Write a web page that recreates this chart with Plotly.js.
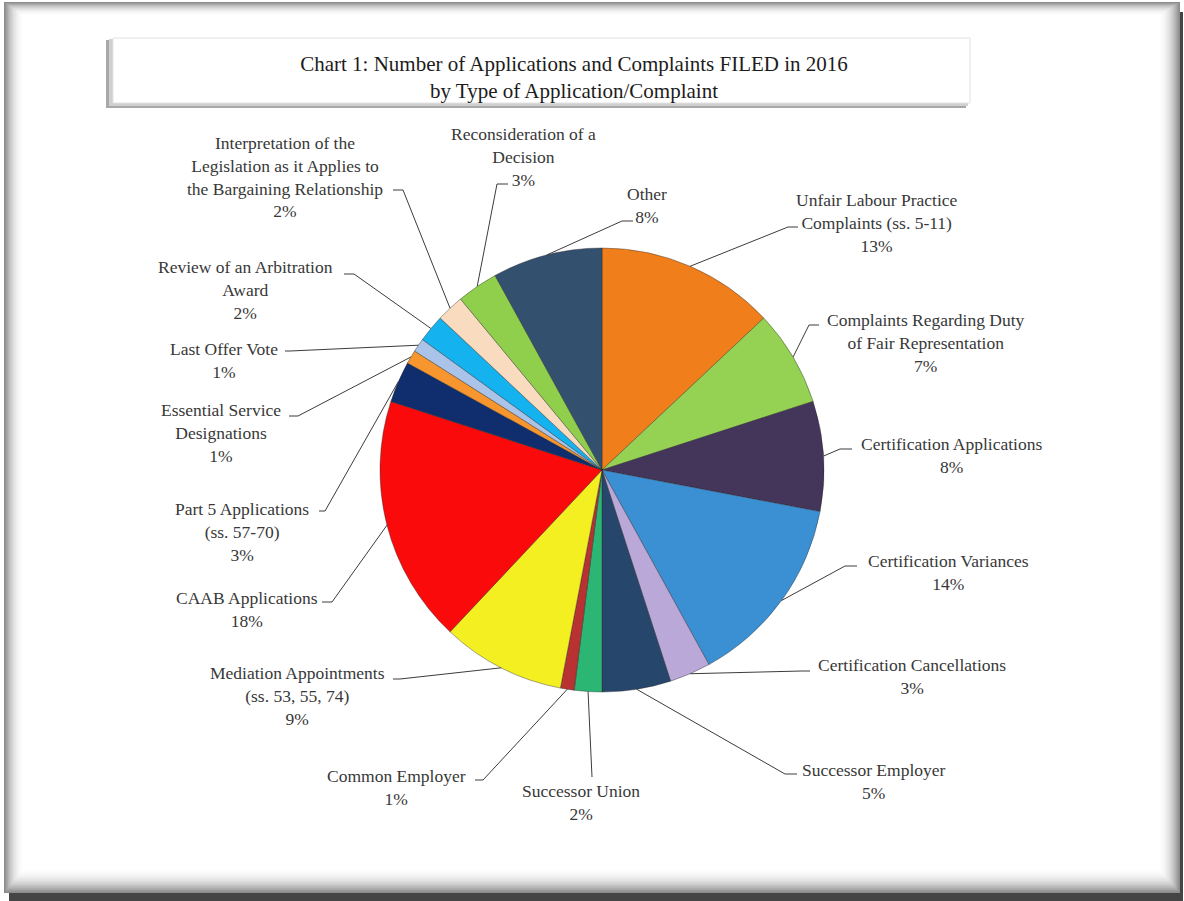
<!DOCTYPE html>
<html>
<head>
<meta charset="utf-8">
<script src="https://cdn.plot.ly/plotly-3.0.1.min.js"></script>
<style>html,body{margin:0;padding:0;background:#fff;}#chart{width:1184px;height:901px;}</style>
</head>
<body>
<div id="chart"></div>
<script>
// ---- data ----
const categories = [
  "Unfair Labour Practice Complaints (ss. 5-11)",
  "Complaints Regarding Duty of Fair Representation",
  "Certification Applications",
  "Certification Variances",
  "Certification Cancellations",
  "Successor Employer",
  "Successor Union",
  "Common Employer",
  "Mediation Appointments (ss. 53, 55, 74)",
  "CAAB Applications",
  "Part 5 Applications (ss. 57-70)",
  "Essential Service Designations",
  "Last Offer Vote",
  "Review of an Arbitration Award",
  "Interpretation of the Legislation as it Applies to the Bargaining Relationship",
  "Reconsideration of a Decision",
  "Other"
];
const percentValues = [13, 7, 8, 14, 3, 5, 2, 1, 9, 18, 3, 1, 1, 2, 2, 3, 8];
const labelLines = [
  ["Unfair Labour Practice", "Complaints (ss. 5-11)"],
  ["Complaints Regarding Duty", "of Fair Representation"],
  ["Certification Applications"],
  ["Certification Variances"],
  ["Certification Cancellations"],
  ["Successor Employer"],
  ["Successor Union"],
  ["Common Employer"],
  ["Mediation Appointments", "(ss. 53, 55, 74)"],
  ["CAAB Applications"],
  ["Part 5 Applications", "(ss. 57-70)"],
  ["Essential Service", "Designations"],
  ["Last Offer Vote"],
  ["Review of an Arbitration", "Award"],
  ["Interpretation of the", "Legislation as it Applies to", "the Bargaining Relationship"],
  ["Reconsideration of a", "Decision"],
  ["Other"]
];
const titleLines = ["Chart 1: Number of Applications and Complaints FILED in 2016", "by Type of Application/Complaint"];

// ---- styles / layout hints ----
const sliceColors = ["#F07E1B","#95D153","#44355A","#3B8FD3","#B9A8D8","#27466B","#2BB673","#B83232",
  "#F4EF20","#FA0A0A","#102E6E","#F7962F","#AAC3E8","#14B3F0","#F9DCC0","#8FCF4C","#34506F"];
// label text centre [x,y] and leader elbow / end points, in pixels
const labelCenters = [[877,223],[926,343],[951,456],[948,572],[912,676],[874,781],[581,802],[396,787],
  [297,696],[247,609],[242,532],[221,433],[224,361],[246,290],[285,177],[523,157],[647,206]];
const leaderElbows = [[788,227],[809,325],[840,449],[845,566],[802,671],[785,774],[592,777],[483,780],
  [400,679],[332,602],[325,511],[298,416],[290,351],[354,274],[403,190],[497,184],[622,221]];
const leaderEnds = [[798,227],[819,325],[852,449],[857,566],[810,671],[797,774],[592,777],[475,780],
  [393,679],[322,602],[319,511],[289,416],[285,351],[344,274],[393,190],[508,184],[633,221]];

const W = 1184, H = 901;
const px = x => x / W;
const py = y => 1 - y / H;
const CX = 602, CY = 470, R = 222;

const shapes = [];
// outer frame with shadow
shapes.push({type:'rect', xref:'paper', yref:'paper', x0:px(9), x1:px(1183), y0:py(901), y1:py(12),
  fillcolor:'#454545', line:{width:0}, layer:'below'});
const N = 16;
for (let i = 0; i <= N; i++) {
  const t = i / N;
  const g = Math.round(140 + 115 * (1 - Math.pow(1 - t, 2.2)));
  const c = `rgb(${g},${g},${g})`;
  shapes.push({type:'rect', xref:'paper', yref:'paper',
    x0:px(4 + i * 1.3), x1:px(1180 - i * 1.4), y0:py(893 - i * 1.6), y1:py(2 + i * 0.9),
    fillcolor:c, line:{width:0}, layer:'below'});
}
// title box with shadow
shapes.push({type:'rect', xref:'paper', yref:'paper', x0:px(106), x1:px(966), y0:py(108), y1:py(40),
  fillcolor:'#a8a8a8', line:{width:0}, layer:'below'});
shapes.push({type:'rect', xref:'paper', yref:'paper', x0:px(109), x1:px(968), y0:py(106), y1:py(39),
  fillcolor:'#d0d0d0', line:{width:0}, layer:'below'});
shapes.push({type:'rect', xref:'paper', yref:'paper', x0:px(113), x1:px(970), y0:py(103), y1:py(38),
  fillcolor:'#ffffff', line:{color:'#e2e2e2', width:1}, layer:'below'});

// leader lines, anchored at slice mid-angle on the rim
const total = percentValues.reduce((a, b) => a + b, 0);
let cum = 0;
const annotations = [];
percentValues.forEach((v, i) => {
  const mid = (cum + v / 2) / total;
  cum += v;
  const th = 2 * Math.PI * mid;
  const rx = CX + R * Math.sin(th), ry = CY - R * Math.cos(th);
  const e = leaderElbows[i], f = leaderEnds[i];
  shapes.push({type:'path', xref:'paper', yref:'paper',
    path:`M ${px(rx)},${py(ry)} L ${px(e[0])},${py(e[1])} L ${px(f[0])},${py(f[1])}`,
    line:{color:'#3c3c3c', width:1}, layer:'above'});
  const txt = labelLines[i].concat([v + '%']).join('<br>');
  annotations.push({xref:'paper', yref:'paper', x:px(labelCenters[i][0]), y:py(labelCenters[i][1]),
    xanchor:'center', yanchor:'middle', align:'center', showarrow:false, text:txt,
    font:{family:'Liberation Serif, Times New Roman, serif', size:17.5, color:'#383838'}});
});

const trace = {
  type:'pie', labels:categories, values:percentValues, sort:false, direction:'clockwise', rotation:0,
  textinfo:'none', textposition:'none', hoverinfo:'label+percent',
  marker:{colors:sliceColors, line:{color:'rgba(40,40,40,0.4)', width:1}},
  domain:{x:[px(CX - R), px(CX + R)], y:[py(CY + R), py(CY - R)]},
  showlegend:false
};

const layout = {
  width:W, height:H, margin:{l:0, r:0, t:0, b:0},
  paper_bgcolor:'#ffffff', showlegend:false,
  title:{text:titleLines.join('<br>'), x:px(574), y:py(71), xref:'paper', yref:'paper',
    xanchor:'center', yanchor:'middle',
    font:{family:'Liberation Serif, Times New Roman, serif', size:21, color:'#1c1c1c'}},
  shapes:shapes, annotations:annotations
};

Plotly.newPlot('chart', [trace], layout, {displayModeBar:false, staticPlot:true});
</script>
</body>
</html>
